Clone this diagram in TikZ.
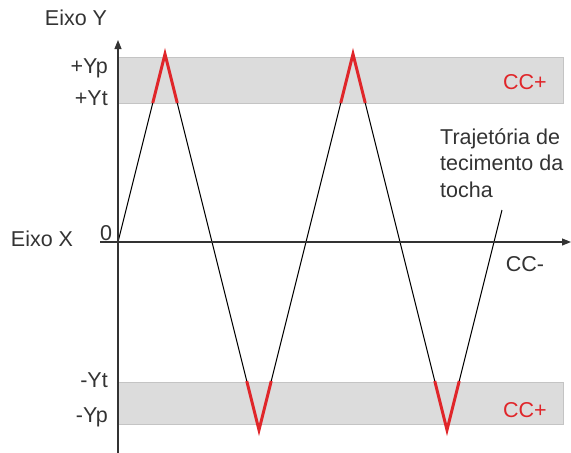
\documentclass[tikz,border=0pt]{standalone}
\usepackage{fontspec}
\setmainfont{Liberation Sans}
\usetikzlibrary{arrows.meta}
\definecolor{bandfill}{HTML}{DCDCDC}
\definecolor{bandline}{HTML}{C4C4C4}
\definecolor{txt}{HTML}{333333}
\definecolor{ccred}{HTML}{E0262A}
\tikzset{
  band/.style={fill=bandfill,draw=bandline,line width=0.8pt},
  axis/.style={line width=1.1pt,txt,-{Triangle[length=9pt,width=7pt]}},
  lbl/.style={font=\fontsize{21.5}{26}\selectfont,text=txt,inner sep=0pt},
  redlbl/.style={font=\fontsize{21.5}{26}\selectfont,text=ccred,inner sep=0pt},
  path/.style={line width=1pt,black},
  hot/.style={line width=3pt,ccred,line join=miter}
}
\begin{document}
\begin{tikzpicture}[x=1pt,y=-1pt]
\useasboundingbox (0,0) rectangle (571,453);
% bands
\fill[band] (118,57) rectangle (563,103);
\fill[band] (118,382) rectangle (563,424);
% trajectory
\coordinate (p0) at (118,242);
\coordinate (p1) at (165,54);
\coordinate (p2) at (259,430);
\coordinate (p3) at (353,54);
\coordinate (p4) at (447,430);
\coordinate (p5) at (502,210);
\draw[path] (p0) -- (p1) -- (p2) -- (p3) -- (p4) -- (p5);
% red parts in bands
\draw[hot] (152.75,103) -- (p1) -- (177.25,103);
\draw[hot] (246.75,381) -- (p2) -- (271.25,381);
\draw[hot] (340.75,103) -- (p3) -- (365.25,103);
\draw[hot] (434.75,381) -- (p4) -- (459.25,381);
% axes
\coordinate (xs) at (100,242);
\coordinate (xe) at (571,242);
\coordinate (ys) at (118,453);
\coordinate (ye) at (118,40);
\draw[axis] (xs) -- (xe);
\draw[axis] (ys) -- (ye);
% labels
\node[lbl] (ey) at (76,18) {Eixo Y};
\node[lbl,anchor=east] (yp) at (108,68) {+Yp};
\node[lbl,anchor=east] (yt) at (108,98) {+Yt};
\node[lbl,anchor=east] (ymt) at (108,380) {-Yt};
\node[lbl,anchor=east] (ymp) at (108,417) {-Yp};
\node[lbl] (zero) at (106,233) {0};
\node[lbl] (ex) at (42,239) {Eixo X};
\node[redlbl] (cc1) at (525,82) {CC+};
\node[redlbl] (cc2) at (525,410) {CC+};
\node[lbl] (ccm) at (525,264) {CC-};
\node[lbl,anchor=north west,align=left,font=\fontsize{21.5}{26.5}\selectfont] (traj) at (440,128) {Trajetória de\\tecimento da\\tocha};
\end{tikzpicture}
\end{document}
